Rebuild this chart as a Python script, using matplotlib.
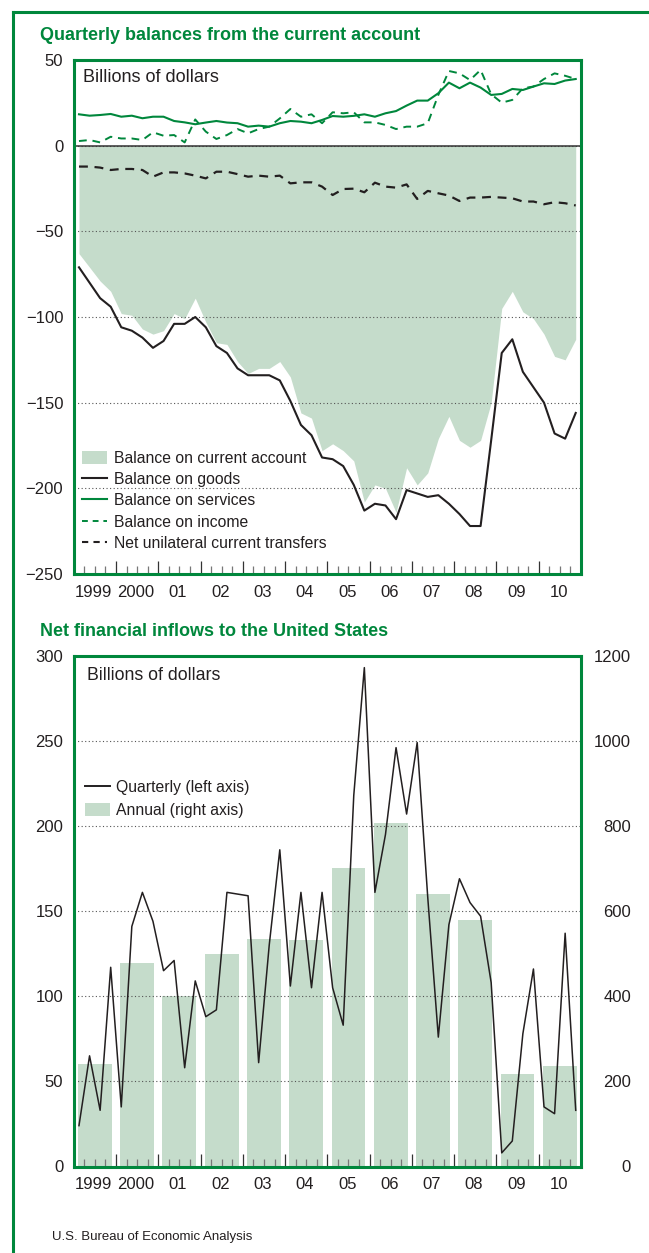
import matplotlib
matplotlib.use("Agg")
import matplotlib.pyplot as plt
import numpy as np
from matplotlib import font_manager
from matplotlib.patches import Patch
from matplotlib.lines import Line2D
import matplotlib.transforms as mtransforms

names = {f.name for f in font_manager.fontManager.ttflist}
narrow = "Liberation Sans Narrow" if "Liberation Sans Narrow" in names else "Liberation Sans"
title_size = 14 if narrow == "Liberation Sans Narrow" else 13
plt.rcParams["font.family"] = ["Liberation Sans", "DejaVu Sans"]

green = "#00873c"
light = "#c5dccb"
ink = "#231f20"

# quarterly data, 1999Q1 .. 2010Q4 (billions of dollars)
current_account = [-63, -71, -79, -85, -98, -99, -107, -110, -108, -98, -101, -89,
                   -103, -115, -116, -126, -133, -130, -130, -126, -135, -156, -159, -178,
                   -174, -178, -184, -208, -198, -200, -214, -188, -198, -191, -171, -158,
                   -172, -176, -172, -150, -95, -85, -97, -101, -110, -123, -125, -113]
goods = [-71, -80, -89, -94, -106, -108, -112, -118, -114, -104, -104, -100,
         -106, -117, -121, -130, -134, -134, -134, -137, -149, -163, -169, -182,
         -183, -187, -198, -213, -209, -210, -218, -201, -203, -205, -204, -209,
         -215, -222, -222, -172, -121, -113, -132, -141, -150, -168, -171, -156]
services = [18.3, 17.5, 17.9, 18.5, 16.9, 17.5, 16.0, 16.9, 16.9, 14.4, 13.6, 12.5,
            13.5, 14.4, 13.5, 13.1, 11.1, 11.7, 11.1, 13.1, 14.4, 14.0, 13.1, 15.0,
            17.3, 16.9, 17.4, 18.3, 16.9, 18.9, 20.2, 23.4, 26.3, 26.3, 30.6, 36.8,
            33.5, 36.8, 33.9, 29.6, 30.2, 33.1, 32.5, 34.5, 36.4, 36.0, 38.0, 38.9]
income = [2.7, 3.3, 1.9, 5.2, 4.2, 4.2, 3.3, 7.8, 5.8, 6.2, 1.9, 15.3,
          8.2, 3.9, 6.2, 9.7, 7.2, 9.7, 11.1, 15.9, 21.4, 16.9, 18.3, 13.1,
          19.5, 18.9, 19.5, 13.6, 13.6, 12.1, 9.7, 11.1, 11.1, 13.1, 29.6, 43.6,
          42.2, 38.3, 44.2, 30.0, 25.1, 26.7, 33.5, 34.5, 38.9, 42.2, 40.8, 38.9]
transfers = [-12.2, -12.2, -12.8, -14.2, -13.6, -13.6, -14.2, -18.1, -15.6, -15.6, -16.2, -17.5,
             -19.1, -15.2, -15.2, -16.6, -18.1, -17.5, -18.1, -17.5, -22.0, -21.4, -21.4, -23.9,
             -28.8, -25.3, -25.1, -27.2, -21.6, -23.9, -24.5, -22.6, -31.1, -26.4, -27.8, -29.1,
             -32.3, -30.3, -30.3, -29.9, -30.3, -30.7, -32.6, -32.6, -34.2, -33.0, -33.6, -34.9]

inflows_quarterly = [24, 65, 33, 117, 35, 141, 161, 144, 115, 121, 58, 109,
                     88, 92, 161, 160, 159, 61, 130, 186, 106, 161, 105, 161,
                     105, 83, 218, 293, 161, 195, 246, 207, 249, 158, 76, 142,
                     169, 155, 147, 108, 8, 15, 78, 116, 35, 31, 137, 33]
inflows_annual = [240, 478, 400, 500, 535, 533, 702, 808, 639, 578, 218, 236]

years = np.arange(1999, 2011)
year_labels = ["1999", "2000", "01", "02", "03", "04", "05", "06", "07", "08", "09", "10"]
quarters = 1999 + np.arange(48) / 4 + 0.125

fig = plt.figure(figsize=(6.49, 12.53), dpi=100)

# outer frame of the page
fig.add_artist(Line2D([13 / 649, 13 / 649], [0, 1 - 12 / 1253], color=green, lw=2.2,
                      transform=fig.transFigure, solid_capstyle="projecting"))
fig.add_artist(Line2D([13 / 649, 1], [1 - 12 / 1253, 1 - 12 / 1253], color=green, lw=2.2,
                      transform=fig.transFigure, solid_capstyle="projecting"))


def style_axes(ax):
    for s in ax.spines.values():
        s.set_color(green)
        s.set_linewidth(2.2)
        s.set_zorder(5)
    ax.set_xlim(1999, 2011)
    ax.set_xticks(np.arange(2000, 2011))
    minor = [y + q / 4 for y in range(1999, 2011) for q in (1, 2, 3)]
    ax.set_xticks(minor, minor=True)
    ax.tick_params(axis="x", which="major", direction="in", length=9.5, width=0.9,
                   color="#333333", labelbottom=False)
    ax.tick_params(axis="x", which="minor", direction="in", length=5.8, width=0.9,
                   color="#777777", labelbottom=False)
    ax.tick_params(axis="y", length=0, pad=7.5, labelsize=12, labelcolor=ink)
    ax.yaxis.grid(True, linestyle=(0, (1, 2.2)), color="#555555", lw=0.8)
    trans = mtransforms.blended_transform_factory(ax.transData, ax.transAxes)
    for y, lab in zip(years, year_labels):
        ax.text(y + 0.47, -0.036, lab, transform=trans, ha="center", va="center",
                fontsize=12, color=ink)


# ---- top chart
ax1 = fig.add_axes([73.7 / 649, 1 - 574 / 1253, 507.3 / 649, 514 / 1253])
style_axes(ax1)
ax1.set_ylim(-250, 50)
ax1.set_yticks(np.arange(-250, 51, 50))
ax1.fill_between(quarters, 0, current_account, color=light, lw=0, zorder=1)
ax1.axhline(0, color="#333333", lw=1.1, zorder=3)
ax1.plot(quarters, goods, color=ink, lw=1.5, zorder=4)
ax1.plot(quarters, services, color=green, lw=1.5, zorder=4)
ax1.plot(quarters, income, color=green, lw=1.4, ls=(0, (4, 3)), zorder=4)
ax1.plot(quarters, transfers, color=ink, lw=1.6, ls=(0, (4, 3)), zorder=4)
ax1.text(0.019, 0.965, "Billions of dollars", transform=ax1.transAxes, fontsize=13,
         color=ink, va="center", ha="left")
handles = [Patch(facecolor=light, edgecolor="none"),
           Line2D([], [], color=ink, lw=1.5),
           Line2D([], [], color=green, lw=1.5),
           Line2D([], [], color=green, lw=1.4, ls=(0, (3, 2.5))),
           Line2D([], [], color=ink, lw=1.5, ls=(0, (3, 2.5)))]
labels = ["Balance on current account", "Balance on goods", "Balance on services",
          "Balance on income", "Net unilateral current transfers"]
ax1.legend(handles, labels, loc="upper left", bbox_to_anchor=(0.0164, 0.2398), frameon=False,
           fontsize=11.3, handlelength=1.6, handleheight=0.85, handletextpad=0.45,
           labelspacing=0.4, borderaxespad=0, borderpad=0, labelcolor=ink)
fig.text(40 / 649, 1 - 35 / 1253, "Quarterly balances from the current account",
         family=narrow, weight="bold", color=green, fontsize=title_size, va="center")

# ---- bottom chart
ax2 = fig.add_axes([73.7 / 649, 1 - 1166.5 / 1253, 507.3 / 649, 510.8 / 1253])
ax3 = ax2.twinx()
ax2.set_zorder(ax3.get_zorder() + 1)
ax2.patch.set_visible(False)
style_axes(ax2)
ax3.set_ylim(0, 1200)
ax3.set_yticks(np.arange(0, 1201, 200))
ax3.tick_params(axis="y", length=0, pad=36, labelsize=12, labelcolor=ink)
for lab in ax3.get_yticklabels():
    lab.set_horizontalalignment("right")
for s in ax3.spines.values():
    s.set_visible(False)
ax3.bar(years + 0.5, inflows_annual, width=0.8, color=light, lw=0)
ax2.set_ylim(0, 300)
ax2.set_yticks(np.arange(0, 301, 50))
ax2.plot(quarters, inflows_quarterly, color=ink, lw=1.1, zorder=4)
ax2.text(0.027, 0.962, "Billions of dollars", transform=ax2.transAxes, fontsize=12.8,
         color=ink, va="center", ha="left")
ax2.legend([Line2D([], [], color=ink, lw=1.4), Patch(facecolor=light, edgecolor="none")],
           ["Quarterly (left axis)", "Annual (right axis)"], loc="upper left",
           bbox_to_anchor=(0.0223, 0.7566), frameon=False, fontsize=11.3, handlelength=1.6,
           handleheight=0.85, handletextpad=0.35, labelspacing=0.52, borderaxespad=0,
           borderpad=0, labelcolor=ink)
fig.text(40 / 649, 1 - 632 / 1253, "Net financial inflows to the United States",
         family=narrow, weight="bold", color=green, fontsize=title_size, va="center")

fig.text(52 / 649, 1 - 1237 / 1253, "U.S. Bureau of Economic Analysis", family=narrow,
         fontsize=9.5, color=ink, va="center")

fig.savefig("out.png", dpi=100)
